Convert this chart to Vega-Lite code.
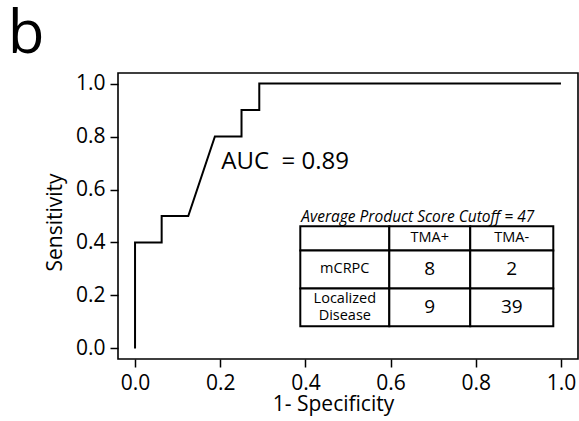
{
  "$schema": "https://vega.github.io/schema/vega-lite/v6.json",
  "width": 460,
  "height": 286,
  "autosize": {"type": "none"},
  "padding": {"left": 118, "top": 73, "right": 1, "bottom": 62},
  "background": "white",
  "config": {
    "view": {"stroke": "black", "strokeWidth": 1.6},
    "font": "Open Sans",
    "axis": {
      "grid": false,
      "domain": false,
      "tickColor": "black",
      "tickSize": 8,
      "tickWidth": 1.5,
      "labelColor": "black",
      "labelFontSize": 21,
      "labelFont": "Open Sans",
      "titleColor": "black",
      "titleFontSize": 21,
      "titleFont": "Open Sans",
      "titleFontWeight": "normal",
      "labelPadding": 5
    }
  },
  "datasets": {
    "roc": [
      {"fpr": 0.0, "tpr": 0.0},
      {"fpr": 0.0, "tpr": 0.4},
      {"fpr": 0.0625, "tpr": 0.4},
      {"fpr": 0.0625, "tpr": 0.5},
      {"fpr": 0.125, "tpr": 0.5},
      {"fpr": 0.1875, "tpr": 0.8},
      {"fpr": 0.25, "tpr": 0.8},
      {"fpr": 0.25, "tpr": 0.9},
      {"fpr": 0.2917, "tpr": 0.9},
      {"fpr": 0.2917, "tpr": 1.0},
      {"fpr": 1.0, "tpr": 1.0}
    ],
    "cells": [
      {"x1": 0.388, "x2": 0.597, "y1": 0.4615, "y2": 0.370},
      {"x1": 0.597, "x2": 0.787, "y1": 0.4615, "y2": 0.370},
      {"x1": 0.787, "x2": 0.982, "y1": 0.4615, "y2": 0.370},
      {"x1": 0.388, "x2": 0.597, "y1": 0.370, "y2": 0.2264},
      {"x1": 0.597, "x2": 0.787, "y1": 0.370, "y2": 0.2264},
      {"x1": 0.787, "x2": 0.982, "y1": 0.370, "y2": 0.2264},
      {"x1": 0.388, "x2": 0.597, "y1": 0.2264, "y2": 0.084},
      {"x1": 0.597, "x2": 0.787, "y1": 0.2264, "y2": 0.084},
      {"x1": 0.787, "x2": 0.982, "y1": 0.2264, "y2": 0.084}
    ],
    "small": [
      {"x": 0.692, "y": 0.4155, "label": "TMA+"},
      {"x": 0.8845, "y": 0.4155, "label": "TMA-"},
      {"x": 0.4925, "y": 0.2983, "label": "mCRPC"}
    ],
    "multi": [
      {"x": 0.4925, "y": 0.155, "label": "Localized\nDisease"}
    ],
    "nums": [
      {"x": 0.692, "y": 0.2983, "label": "8"},
      {"x": 0.8845, "y": 0.2983, "label": "2"},
      {"x": 0.692, "y": 0.155, "label": "9"},
      {"x": 0.8845, "y": 0.155, "label": "39"}
    ],
    "notes": [
      {"x": 0.2026, "y": 0.679, "label": "AUC\u00a0 = 0.89", "kind": "auc"},
      {"x": 0.3905, "y": 0.479, "label": "Average Product Score Cutoff = 47", "kind": "cap"},
      {"x": -0.299, "y": 1.1155, "label": "b", "kind": "panel"}
    ]
  },
  "layer": [
    {
      "data": {"name": "roc"},
      "mark": {"type": "line", "color": "black", "strokeWidth": 2, "interpolate": "linear"},
      "encoding": {
        "x": {
          "field": "fpr", "type": "quantitative",
          "scale": {"domain": [-0.04, 1.04], "nice": false, "zero": false},
          "axis": {
            "values": [0, 0.2, 0.4, 0.6, 0.8, 1.0], "format": ".1f",
            "title": "1- Specificity",
            "titleX": 215, "titleY": 51, "titleBaseline": "alphabetic"
          }
        },
        "y": {
          "field": "tpr", "type": "quantitative",
          "scale": {"domain": [-0.04, 1.04], "nice": false, "zero": false},
          "axis": {
            "values": [0, 0.2, 0.4, 0.6, 0.8, 1.0], "format": ".1f",
            "title": "Sensitivity",
            "titleX": -57, "titleY": 149, "titleBaseline": "alphabetic", "titleAngle": -90
          }
        },
        "order": {"field": "fpr", "type": "quantitative"}
      }
    },
    {
      "data": {"name": "cells"},
      "mark": {"type": "rect", "fill": "white", "stroke": "black", "strokeWidth": 2},
      "encoding": {
        "x": {"field": "x1", "type": "quantitative"},
        "x2": {"field": "x2"},
        "y": {"field": "y1", "type": "quantitative"},
        "y2": {"field": "y2"}
      }
    },
    {
      "data": {"name": "small"},
      "mark": {"type": "text", "fontSize": 14.5, "color": "black", "align": "center", "baseline": "middle"},
      "encoding": {
        "x": {"field": "x", "type": "quantitative"},
        "y": {"field": "y", "type": "quantitative"},
        "text": {"field": "label"}
      }
    },
    {
      "data": {"name": "multi"},
      "mark": {"type": "text", "fontSize": 14.5, "color": "black", "align": "center", "baseline": "middle", "lineBreak": "\n", "lineHeight": 17, "dy": -8.5},
      "encoding": {
        "x": {"field": "x", "type": "quantitative"},
        "y": {"field": "y", "type": "quantitative"},
        "text": {"field": "label"}
      }
    },
    {
      "data": {"name": "nums"},
      "mark": {"type": "text", "fontSize": 19, "color": "black", "align": "center", "baseline": "middle"},
      "encoding": {
        "x": {"field": "x", "type": "quantitative"},
        "y": {"field": "y", "type": "quantitative"},
        "text": {"field": "label"}
      }
    },
    {
      "data": {"name": "notes"},
      "transform": [{"filter": "datum.kind == 'auc'"}],
      "mark": {"type": "text", "fontSize": 24, "color": "black", "align": "left", "baseline": "alphabetic"},
      "encoding": {
        "x": {"field": "x", "type": "quantitative"},
        "y": {"field": "y", "type": "quantitative"},
        "text": {"field": "label"}
      }
    },
    {
      "data": {"name": "notes"},
      "transform": [{"filter": "datum.kind == 'cap'"}],
      "mark": {"type": "text", "fontSize": 15.5, "fontStyle": "italic", "color": "black", "align": "left", "baseline": "alphabetic"},
      "encoding": {
        "x": {"field": "x", "type": "quantitative"},
        "y": {"field": "y", "type": "quantitative"},
        "text": {"field": "label"}
      }
    },
    {
      "data": {"name": "notes"},
      "transform": [{"filter": "datum.kind == 'panel'"}],
      "mark": {"type": "text", "fontSize": 60, "color": "black", "align": "left", "baseline": "alphabetic"},
      "encoding": {
        "x": {"field": "x", "type": "quantitative"},
        "y": {"field": "y", "type": "quantitative"},
        "text": {"field": "label"}
      }
    }
  ]
}
